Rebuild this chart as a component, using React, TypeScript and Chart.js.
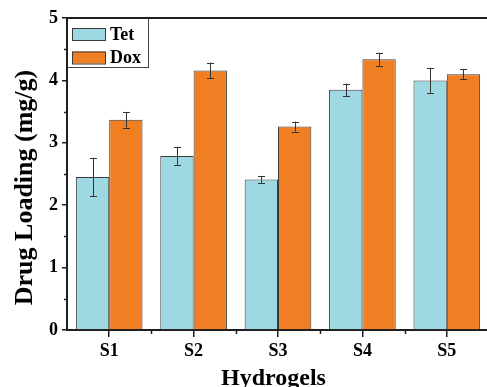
import React, { useEffect, useRef } from "react";
import { Chart, registerables } from "chart.js";

Chart.register(...registerables);

const categories = ["S1", "S2", "S3", "S4", "S5"];
const tetValues = [2.45, 2.79, 2.41, 3.85, 4.0];
const tetErrors = [0.31, 0.145, 0.06, 0.1, 0.2];
const doxValues = [3.37, 4.16, 3.26, 4.34, 4.1];
const doxErrors = [0.125, 0.125, 0.08, 0.105, 0.08];
const yTicks = [0, 1, 2, 3, 4, 5];
const yMinorTicks = [0.5, 1.5, 2.5, 3.5, 4.5];

const FONT = "'Liberation Serif', 'Times New Roman', serif";
const AXIS_COLOR = "#1e1e1e";
const TET_COLOR = "#9ED8E2";
const DOX_COLOR = "#F07F23";
const BAR_BORDER = "#3a3a3a";

const errors = [tetErrors, doxErrors];

const decorPlugin = {
  id: "decor",
  afterDatasetsDraw(chart: any) {
    const { ctx, chartArea, scales } = chart;
    const y = scales.y;
    const x = scales.x;
    // error bars
    ctx.save();
    ctx.strokeStyle = "#333";
    ctx.lineWidth = 1;
    chart.data.datasets.forEach((ds: any, di: number) => {
      const meta = chart.getDatasetMeta(di);
      meta.data.forEach((bar: any, i: number) => {
        const v = ds.data[i];
        const e = errors[di][i];
        const yTop = y.getPixelForValue(v + e);
        const yBot = y.getPixelForValue(v - e);
        const bx = Math.round(bar.x) + 0.5;
        const cap = 3.5;
        ctx.beginPath();
        ctx.moveTo(bx, yTop);
        ctx.lineTo(bx, yBot);
        ctx.moveTo(bx - cap, Math.round(yTop) + 0.5);
        ctx.lineTo(bx + cap, Math.round(yTop) + 0.5);
        ctx.moveTo(bx - cap, Math.round(yBot) + 0.5);
        ctx.lineTo(bx + cap, Math.round(yBot) + 0.5);
        ctx.stroke();
      });
    });
    ctx.restore();
  },
  afterDraw(chart: any) {
    const { ctx, chartArea, scales } = chart;
    const y = scales.y;
    const x = scales.x;
    ctx.save();
    // top frame line
    ctx.strokeStyle = AXIS_COLOR;
    ctx.lineWidth = 2;
    ctx.beginPath();
    ctx.moveTo(chartArea.left - 1, chartArea.top);
    ctx.lineTo(chartArea.right + 2, chartArea.top);
    ctx.stroke();
    // minor y ticks
    ctx.lineWidth = 1.5;
    ctx.beginPath();
    yMinorTicks.forEach((t) => {
      const py = Math.round(y.getPixelForValue(t)) + 0.5;
      ctx.moveTo(chartArea.left - 3, py);
      ctx.lineTo(chartArea.left, py);
    });
    // minor x ticks between categories
    for (let i = 0; i < categories.length - 1; i++) {
      const px = Math.round((x.getPixelForValue(i) + x.getPixelForValue(i + 1)) / 2) + 0.5;
      ctx.moveTo(px, chartArea.bottom);
      ctx.lineTo(px, chartArea.bottom + 4);
    }
    ctx.stroke();

    // legend box
    const lx = chartArea.left;
    const ly = chartArea.top;
    const lw = 81;
    const lh = 49;
    ctx.fillStyle = "#fff";
    ctx.fillRect(lx, ly, lw, lh);
    ctx.strokeStyle = "#444";
    ctx.lineWidth = 1;
    ctx.strokeRect(lx + 0.5, ly + 0.5, lw, lh);
    // redraw frame lines over legend edges
    ctx.strokeStyle = AXIS_COLOR;
    ctx.lineWidth = 2;
    ctx.beginPath();
    ctx.moveTo(chartArea.left - 1, chartArea.top);
    ctx.lineTo(chartArea.left + lw + 2, chartArea.top);
    ctx.moveTo(chartArea.left, chartArea.top);
    ctx.lineTo(chartArea.left, chartArea.top + lh + 2);
    ctx.stroke();

    chart.data.datasets.forEach((ds: any, di: number) => {
      const sy = ly + 10 + di * 23.5;
      ctx.fillStyle = ds.backgroundColor;
      ctx.fillRect(lx + 5, sy, 33, 12);
      ctx.strokeStyle = BAR_BORDER;
      ctx.lineWidth = 1;
      ctx.strokeRect(lx + 5.5, sy + 0.5, 33, 12);
      ctx.fillStyle = "#000";
      ctx.font = `bold 18px ${FONT}`;
      ctx.textAlign = "left";
      ctx.textBaseline = "alphabetic";
      ctx.fillText(ds.label, lx + 43, sy + 11.5);
    });

    // axis titles
    ctx.fillStyle = "#000";
    ctx.font = `bold 24px ${FONT}`;
    ctx.textAlign = "center";
    ctx.textBaseline = "alphabetic";
    ctx.fillText("Hydrogels", 273.5, 385);

    ctx.translate(32, 187.5);
    ctx.rotate(-Math.PI / 2);
    ctx.font = `bold 26px ${FONT}`;
    ctx.fillText("Drug Loading (mg/g)", 0, 0);
    ctx.restore();
  },
};

export default function App() {
  const ref = useRef<HTMLCanvasElement | null>(null);
  useEffect(() => {
    if (!ref.current) return;
    const chart = new Chart(ref.current, {
      type: "bar",
      data: {
        labels: categories,
        datasets: [
          {
            label: "Tet",
            data: tetValues,
            backgroundColor: TET_COLOR,
            borderColor: BAR_BORDER,
            borderWidth: 1,
            categoryPercentage: 0.79,
            barPercentage: 1,
          },
          {
            label: "Dox",
            data: doxValues,
            backgroundColor: DOX_COLOR,
            borderColor: BAR_BORDER,
            borderWidth: 1,
            categoryPercentage: 0.79,
            barPercentage: 1,
          },
        ],
      },
      options: {
        responsive: false,
        animation: false,
        devicePixelRatio: 1,
        layout: { padding: { left: 0, right: 0, top: 18, bottom: 0 } },
        plugins: {
          legend: { display: false },
          tooltip: { enabled: false },
          title: { display: false },
        },
        scales: {
          x: {
            afterFit: (s: any) => {
              s.height = 57;
            },
            border: { display: true, color: AXIS_COLOR, width: 2 },
            grid: {
              display: true,
              drawOnChartArea: false,
              drawTicks: true,
              tickLength: 7,
              offset: false,
              color: AXIS_COLOR,
              lineWidth: 1.5,
            },
            ticks: {
              color: "#000",
              padding: 4,
              font: { family: FONT, size: 18, weight: "bold" },
            },
          },
          y: {
            min: 0,
            max: 5,
            afterFit: (s: any) => {
              s.width = 67;
            },
            afterBuildTicks: (s: any) => {
              s.ticks = yTicks.map((v) => ({ value: v }));
            },
            border: { display: true, color: AXIS_COLOR, width: 2 },
            grid: {
              display: true,
              drawOnChartArea: false,
              drawTicks: true,
              tickLength: 5,
              color: AXIS_COLOR,
              lineWidth: 1.5,
            },
            ticks: {
              color: "#000",
              padding: 4,
              font: { family: FONT, size: 18, weight: "bold" },
            },
          },
        },
      },
      plugins: [decorPlugin],
    } as any);
    return () => chart.destroy();
  }, []);

  return (
    <div
      style={{
        position: "fixed",
        left: 0,
        top: 0,
        width: 487,
        height: 387,
        overflow: "hidden",
        background: "#fff",
      }}
    >
      <canvas ref={ref} width={489} height={387} style={{ display: "block" }} />
    </div>
  );
}
